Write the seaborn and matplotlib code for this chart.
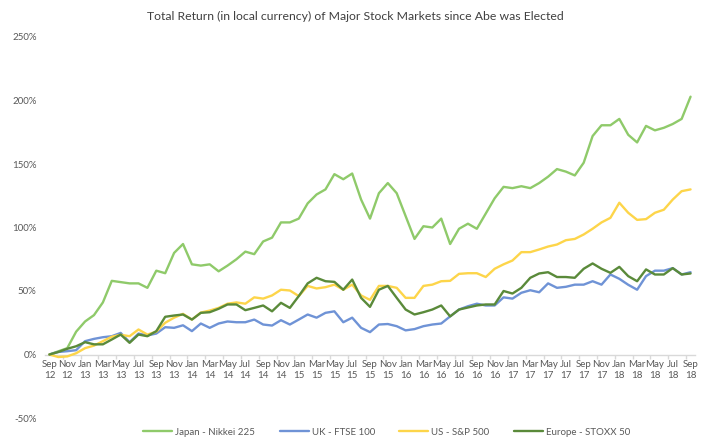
import numpy as np
import pandas as pd
import matplotlib
matplotlib.use("Agg")
import matplotlib.pyplot as plt
import seaborn as sns

months = ["Sep", "Oct", "Nov", "Dec", "Jan", "Feb", "Mar", "Apr", "May", "Jun", "Jul", "Aug"]
start_year = 12
n_points = 73

nikkei = [0, 2.5, 5, 18,
          26, 31, 41, 58, 57, 56, 56, 52.5, 66, 64, 80, 87,
          71, 70, 71, 65.5, 70, 75, 81, 79, 89, 92, 104, 104,
          107, 119, 126, 130, 142, 138, 142.5, 122, 107, 127, 135, 127,
          109, 91, 101, 100, 107, 87, 99, 103, 99, 111, 123, 132,
          131, 132.5, 131, 135, 140, 146, 144, 141, 151, 172, 180.5, 180.5,
          185.5, 173, 167, 180, 176.5, 178.5, 181.5, 185.5, 203]
ftse = [0, 2, 2.6, 3.4,
        10.5, 12.3, 13.6, 14.4, 17, 9.7, 16.5, 15, 16.5, 21.5, 21, 23,
        18.4, 24.4, 21, 24.4, 26, 25.4, 25.4, 27.5, 23.6, 22.8, 27, 23.6,
        27.5, 31.5, 29, 32.8, 34, 25.4, 29, 21, 17.6, 23.6, 24, 22.3,
        19, 20, 22.3, 23.6, 24.4, 30, 35.4, 38, 40, 38.6, 38.6, 45,
        44, 48.6, 50.6, 49, 56, 52.5, 53.3, 55, 55, 57.7, 55, 63,
        59.6, 54.9, 51, 61.7, 66, 66, 68, 63, 64.8]
sp500 = [0, -2, -1.5, 1,
         5, 7, 10.5, 14, 15.5, 14.4, 19.7, 15.7, 18, 25, 29, 32,
         27.5, 33, 34.6, 36.7, 40, 41, 40, 45, 44, 46.5, 51, 50.4,
         46, 54, 52, 53, 55, 51, 55, 46.5, 43, 54, 54, 52.5,
         44.6, 44.6, 54, 55, 57.7, 58, 63.5, 64, 64, 61, 67.5, 71,
         74, 80.6, 80.6, 82.7, 85, 86.6, 90, 91, 94.5, 99, 104, 107.6,
         119.5, 111.6, 106, 106.6, 111.6, 114, 122, 128.6, 130]
stoxx = [0, 2, 4.5, 6.5,
         9.7, 8, 8, 11.8, 15.7, 9.2, 15.7, 14.4, 18.4, 29.7, 30.7, 31.5,
         27.5, 32.8, 33.3, 36, 39.4, 39.4, 34.9, 36.7, 38.6, 34, 40.7, 36.7,
         46, 56, 60.4, 57.7, 57.2, 51, 59, 44.6, 37.5, 51, 54, 44.6,
         35.4, 31.5, 33.3, 35.4, 38.6, 30, 35.4, 37, 38.6, 39.4, 39.4, 50,
         48, 52.5, 60.4, 63.8, 64.8, 61, 61, 60.4, 67.5, 71.7, 67.5, 64.3,
         69, 61.7, 57.7, 67, 63, 63, 68, 63, 63.8]

series_names = ["Japan - Nikkei 225", "UK - FTSE 100", "US - S&P 500", "Europe - STOXX 50"]
colors = ["#8fca6a", "#6f93d6", "#fdd54a", "#5a8a3a"]
y_ticks = [-50, 0, 50, 100, 150, 200, 250]

title = "Total Return (in local currency) of Major Stock Markets since Abe was Elected"

# month labels
labels = []
for i in range(n_points):
    m = months[i % 12]
    yr = start_year + (i + 8) // 12
    labels.append(f"{m}\n{yr}")

idx = list(range(n_points))
df = pd.DataFrame({
    "idx": idx * 4,
    "value": nikkei + ftse + sp500 + stoxx,
    "series": sum([[s] * n_points for s in series_names], []),
})

sns.set_theme(style="white")
plt.rcParams["font.family"] = ["Lato", "DejaVu Sans"]
text_color = "#595959"

fig = plt.figure(figsize=(7.03, 4.41), dpi=100)
ax = fig.add_axes([45 / 703, 1 - 418 / 441, 650 / 703, (418 - 37) / 441])

sns.lineplot(data=df, x="idx", y="value", hue="series", hue_order=series_names,
             palette=colors, linewidth=1.7, ax=ax, legend=False)

for s in ["top", "right", "left"]:
    ax.spines[s].set_visible(False)
ax.spines["bottom"].set_position(("data", 0))
ax.spines["bottom"].set_color("#d9d9d9")
ax.spines["bottom"].set_linewidth(1.0)
ax.spines["bottom"].set_zorder(0)

ax.set_xlim(-0.5, n_points - 0.5)
ax.set_ylim(-50, 250)
ax.set_yticks(y_ticks)
ax.set_yticklabels([f"{v}%" for v in y_ticks])
ax.set_xticks(idx[::2])
ax.set_xticklabels(labels[::2], linespacing=1.3)
ax.set_xticks([i + 0.5 for i in idx[1::2]], minor=True)
ax.set_xlabel("")
ax.set_ylabel("")
ax.tick_params(axis="x", which="major", length=0, pad=4, labelsize=7, labelcolor=text_color)
ax.tick_params(axis="x", which="minor", length=3, color="#d9d9d9", bottom=True)
ax.tick_params(axis="y", length=0, pad=6, labelsize=7, labelcolor=text_color)
ax.grid(False)

handles = [plt.Line2D([0], [0], color=c, lw=1.7) for c in colors]
fig.legend(handles, series_names, loc="center", bbox_to_anchor=(0.55, 0.02),
           ncol=4, frameon=False, fontsize=7, handlelength=3, handletextpad=0.3,
           columnspacing=2.5, labelcolor=text_color)

fig.text(0.505, 0.962, title, ha="center", va="center", fontsize=8.8, color="#404040")

fig.savefig("out.png", dpi=100)
